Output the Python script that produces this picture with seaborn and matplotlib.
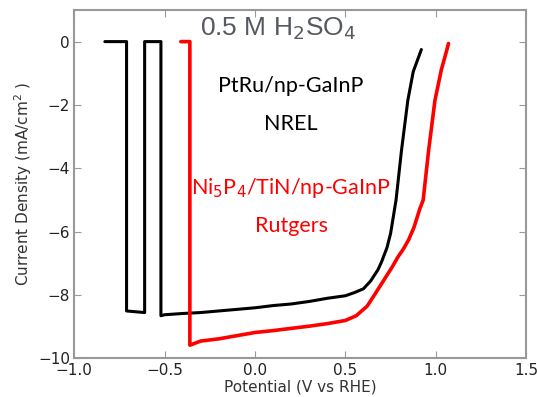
import matplotlib
matplotlib.use("Agg")
import matplotlib.pyplot as plt
import numpy as np
import pandas as pd
import seaborn as sns

# PtRu/np-GaInP (NREL), black trace
nrel_v = [-0.83, -0.71, -0.71, -0.61, -0.61, -0.52, -0.52, -0.50, -0.40, -0.30, -0.20,
          -0.10, 0.00, 0.10, 0.20, 0.30, 0.40, 0.50, 0.55, 0.60, 0.64, 0.68, 0.70,
          0.73, 0.75, 0.78, 0.81, 0.845, 0.875, 0.92]
nrel_j = [0.0, 0.0, -8.50, -8.55, 0.0, 0.0, -8.65, -8.62, -8.58, -8.55, -8.50,
          -8.45, -8.40, -8.33, -8.28, -8.20, -8.10, -8.02, -7.92, -7.80, -7.55, -7.20,
          -6.95, -6.50, -6.05, -5.00, -3.44, -1.86, -0.95, -0.25]

# Ni5P4/TiN/np-GaInP (Rutgers), red trace
rut_v = [-0.41, -0.36, -0.36, -0.30, -0.20, -0.10, 0.00, 0.10, 0.20, 0.30, 0.40,
         0.50, 0.56, 0.62, 0.66, 0.71, 0.76, 0.79, 0.82, 0.85, 0.88, 0.91, 0.93,
         0.96, 0.995, 1.03, 1.06, 1.07]
rut_j = [0.0, 0.0, -9.58, -9.45, -9.38, -9.28, -9.18, -9.12, -9.05, -8.98, -8.90,
         -8.80, -8.65, -8.35, -8.00, -7.55, -7.10, -6.80, -6.55, -6.25, -5.85, -5.30, -5.00,
         -3.44, -1.86, -0.90, -0.28, -0.06]

x_ticks = [-1.0, -0.5, 0.0, 0.5, 1.0, 1.5]
y_ticks = [0, -2, -4, -6, -8, -10]

df = pd.concat([
    pd.DataFrame({"V": nrel_v, "J": nrel_j, "src": "NREL"}),
    pd.DataFrame({"V": rut_v, "J": rut_j, "src": "Rutgers"}),
])

sns.set_style("white")
plt.rcParams["font.family"] = ["DejaVu Sans"]
fig = plt.figure(figsize=(5.37, 3.97), dpi=100)
ax = fig.add_axes([0.138, 0.097, 0.842, 0.878])

sns.lineplot(data=df[df.src == "NREL"], x="V", y="J", sort=False, estimator=None,
             color="black", linewidth=2.2, ax=ax)
sns.lineplot(data=df[df.src == "Rutgers"], x="V", y="J", sort=False, estimator=None,
             color="#ff0000", linewidth=2.6, ax=ax)

ax.set_xlim(-1.0, 1.5)
ax.set_ylim(-10, 1)
ax.set_xticks(x_ticks)
ax.set_yticks(y_ticks)
ax.set_xticklabels(["\u22121.0", "\u22120.5", "0.0", "0.5", "1.0", "1.5"], fontsize=11)
ax.set_yticklabels(["0", "\u22122", "\u22124", "\u22126", "\u22128", "\u221210"], fontsize=11)
ax.tick_params(direction="in", length=5, color="#999999", top=True, right=True,
               bottom=True, left=True, pad=3, labelcolor="#222222")
for s in ax.spines.values():
    s.set_color("#999999")
    s.set_linewidth(1.5)
ax.set_xlabel("Potential (V vs RHE)", fontsize=11, color="#333333", labelpad=1)
ax.set_ylabel("Current Density (mA/cm$^2$ )", fontsize=11, color="#333333", labelpad=3)

fam = ["Lato", "DejaVu Sans"]
ax.text(0.279, 0.945, "0.5 M H$_2$SO$_4$", transform=ax.transAxes, ha="left",
        va="center", fontsize=19, color="#555a60", family=["Liberation Sans", "DejaVu Sans"])
ax.text(0.48, 0.782, "PtRu/np-GaInP", transform=ax.transAxes, ha="center",
        va="center", fontsize=15.5, color="black", family=fam)
ax.text(0.48, 0.672, "NREL", transform=ax.transAxes, ha="center",
        va="center", fontsize=15.5, color="black", family=fam)
ax.text(0.48, 0.49, "Ni$_5$P$_4$/TiN/np-GaInP", transform=ax.transAxes, ha="center",
        va="center", fontsize=15.5, color="#ff0000", family=fam)
ax.text(0.48, 0.38, "Rutgers", transform=ax.transAxes, ha="center",
        va="center", fontsize=15.5, color="#ff0000", family=fam)

plt.savefig("out.png", dpi=100)
